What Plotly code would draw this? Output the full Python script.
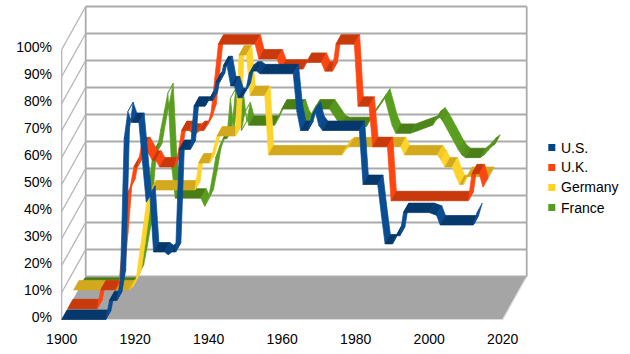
import math
import plotly.graph_objects as go

# ---------------- data ----------------
years = list(range(1900, 2014))

us = [0, 0, 0, 0, 0, 0, 0, 0, 0, 0,
      0, 0, 0, 7, 7, 7, 15, 67, 77, 73,
      73, 73, 58, 43.5, 46, 25, 25, 25, 25, 24,
      25, 25, 63, 63, 63, 63, 79, 79, 79, 79,
      81.1, 81, 88, 88, 94, 94, 86.5, 86.5, 82.1, 82.1,
      84.4, 91, 92, 92, 91, 91, 91, 91, 91, 91,
      91, 91, 91, 91, 77, 70, 70, 70, 75.3, 77,
      71.8, 70, 70, 70, 70, 70, 70, 70, 70, 70,
      70, 70, 50, 50, 50, 50, 50, 38.5, 28, 28,
      28, 31, 31, 39.6, 39.6, 39.6, 39.6, 39.6, 39.6, 39.6,
      39.6, 39.1, 38.6, 35, 35, 35, 35, 35, 35, 35,
      35, 35, 35, 39.6]

uk = [0, 0, 0, 0, 0, 0, 0, 0, 0, 7,
      7, 7, 7, 7, 10, 25, 42, 45, 52.5, 52.5,
      60, 60, 57.5, 55, 55, 52.5, 52.5, 52.5, 52.5, 52.5,
      57.5, 66, 66, 66, 65, 65, 66, 66, 68, 72.5,
      85, 98, 98, 98, 98, 98, 98, 98, 98, 98,
      98, 98, 92.5, 92.5, 92.5, 92.5, 92.5, 92.5, 88.75, 88.75,
      88.75, 88.75, 88.75, 88.75, 88.75, 91.25, 91.25, 91.25, 91.25, 91.25,
      88, 88, 88, 98, 98, 98, 98, 98, 98, 75,
      75, 75, 75, 60, 60, 60, 60, 60, 40, 40,
      40, 40, 40, 40, 40, 40, 40, 40, 40, 40,
      40, 40, 40, 40, 40, 40, 40, 40, 40, 40,
      50, 50, 50, 45]

germany = [3, 3, 3, 3, 3, 3, 3, 3, 3, 3,
           3, 3, 3, 3, 3, 3, 4, 7, 17, 27,
           37, 40, 40, 40, 40, 40, 40, 40, 40, 40,
           40, 40, 40, 40, 50, 50, 50, 50, 55, 60,
           60, 60, 60, 60, 60, 90, 90, 90, 75, 75,
           75, 75, 75, 53, 53, 53, 53, 53, 53, 53,
           53, 53, 53, 53, 53, 53, 53, 53, 53, 53,
           53, 53, 53, 53, 55, 56, 56, 56, 56, 56,
           56, 56, 56, 56, 56, 56, 56, 56, 56, 56,
           53, 53, 53, 53, 53, 53, 53, 53, 53, 53,
           51, 48.5, 48.5, 48.5, 45, 42, 42, 45, 45, 45,
           45, 45, 45, 45]

france = [0, 0, 0, 0, 0, 0, 0, 0, 0, 0,
          0, 0, 0, 0, 0, 2, 5, 12, 20, 40,
          50, 50, 58, 65, 72, 45, 33, 33, 33, 33,
          33, 33, 33, 33, 30, 33, 40, 48, 52, 55,
          55, 70, 58, 70, 58, 65, 60, 60, 60, 60,
          60, 60, 60, 60, 63, 66, 66, 66, 66, 66,
          66, 62, 60, 64, 66, 66, 66, 66, 66, 64,
          62, 60, 59.5, 59.5, 59.5, 59.5, 59.5, 59.5, 59.5, 62,
          64, 66, 68, 70, 65, 60, 57, 57, 57, 57,
          57, 57.5, 58, 58.5, 59, 59.5, 60, 62, 63, 61,
          58.5, 56, 53.5, 51, 49, 48, 48, 48, 48, 48,
          49, 50.5, 52, 53]

series_names = ["U.S.", "U.K.", "Germany", "France"]
series_values = [us, uk, germany, france]
legend_colors = ["#004586", "#ff420e", "#ffd320", "#579d1c"]
dark_colors = ["#06386b", "#c8390c", "#d2a91e", "#4a7f17"]
bright_colors = ["#0a4d93", "#ff4611", "#ffd42a", "#5a9e1f"]

x_tick_vals = [1900, 1920, 1940, 1960, 1980, 2000, 2020]
x_tick_text = ["1900", "1920", "1940", "1960", "1980", "2000", "2020"]
y_tick_vals = [0, 10, 20, 30, 40, 50, 60, 70, 80, 90, 100]
y_tick_text = ["0%", "10%", "20%", "30%", "40%", "50%", "60%", "70%", "80%", "90%", "100%"]

# ---------------- geometry of the pseudo-3D view ----------------
W, H = 630, 354
ML, MR, MT, MB = 58, 90, 4, 32
PX_YEAR = 3.675          # pixels per year
PX_PCT = 2.7             # pixels per percentage point
FRONT_X0 = 61.7          # pixel of 1900 at the front
FRONT_Y0 = 319.5         # pixel of 0% at the front
DEPTH_X = 24 / PX_YEAR   # full depth offset, in years
DEPTH_Y = 43 / PX_PCT    # full depth offset, in percent
SLOT = 0.25
THICK = 0.22
X_FIRST, X_LAST = 1900, 2020

plot_w = W - ML - MR
plot_h = H - MT - MB
xmin = X_FIRST - (FRONT_X0 - ML) / PX_YEAR
xmax = xmin + plot_w / PX_YEAR
ymin = -((H - MB) - FRONT_Y0) / PX_PCT
ymax = ymin + plot_h / PX_PCT

FONT = "Liberation Sans, Arial, sans-serif"


def proj(x, v, d):
    return x + DEPTH_X * d, v + DEPTH_Y * d


def mix(c1, c2, t):
    a = [int(c1[i:i + 2], 16) for i in (1, 3, 5)]
    b = [int(c2[i:i + 2], 16) for i in (1, 3, 5)]
    return "rgb(%d,%d,%d)" % tuple(round(a[i] + (b[i] - a[i]) * t) for i in range(3))


fig = go.Figure()

# floor
fx, fy = [], []
for (x, v, d) in [(X_FIRST, 0, 0), (X_LAST, 0, 0), (X_LAST, 0, 1), (X_FIRST, 0, 1), (X_FIRST, 0, 0)]:
    px, py = proj(x, v, d)
    fx.append(px)
    fy.append(py)
fig.add_trace(go.Scatter(x=fx, y=fy, mode="lines", fill="toself", fillcolor="#a5a5a5",
                         line=dict(width=0), hoverinfo="skip", showlegend=False))
# light front / right floor edge
ex, ey = [], []
for (x, v, d) in [(X_FIRST, 0, 0), (X_LAST, 0, 0), (X_LAST, 0, 1)]:
    px, py = proj(x, v, d)
    ex.append(px)
    ey.append(py)
fig.add_trace(go.Scatter(x=ex, y=ey, mode="lines", line=dict(color="#dcdcdc", width=1.2),
                         hoverinfo="skip", showlegend=False))

# back wall grid lines and borders
gx, gy = [], []
for v in y_tick_vals:
    p0 = proj(X_FIRST, v, 1)
    p1 = proj(X_LAST, v, 1)
    gx += [p0[0], p1[0], None]
    gy += [p0[1], p1[1], None]
for x in (X_FIRST, X_LAST):
    p0 = proj(x, 0, 1)
    p1 = proj(x, 100, 1)
    gx += [p0[0], p1[0], None]
    gy += [p0[1], p1[1], None]
fig.add_trace(go.Scatter(x=gx, y=gy, mode="lines", line=dict(color="#ababab", width=1.8),
                         hoverinfo="skip", showlegend=False))

# left wall: front edge and diagonals
lx, ly = [X_FIRST, X_FIRST, None], [0, 100, None]
for v in y_tick_vals[1:]:
    p0 = proj(X_FIRST, v, 0)
    p1 = proj(X_FIRST, v, 1)
    lx += [p0[0], p1[0], None]
    ly += [p0[1], p1[1], None]
fig.add_trace(go.Scatter(x=lx, y=ly, mode="lines", line=dict(color="#b4b4b4", width=1.3),
                         hoverinfo="skip", showlegend=False))

# ribbons, back series first
for k in [3, 2, 1, 0]:
    vals = series_values[k]
    d0 = k * SLOT
    d1 = d0 + THICK
    runs = []
    for i in range(len(vals) - 1):
        dy = (vals[i + 1] - vals[i]) * PX_PCT
        t = abs(dy) / math.hypot(PX_YEAR, dy)
        lvl = round(t * 4) / 4
        if runs and runs[-1][0] == lvl:
            runs[-1][1].append(i)
        else:
            runs.append([lvl, [i]])
    for lvl, idxs in runs:
        col = mix(dark_colors[k], bright_colors[k], lvl)
        xs, ys = [], []
        for i in idxs:
            x0, x1 = years[i], years[i + 1]
            v0, v1 = vals[i], vals[i + 1]
            for (x, v, d) in [(x0, v0, d0), (x1, v1, d0), (x1, v1, d1), (x0, v0, d1), (x0, v0, d0)]:
                px, py = proj(x, v, d)
                xs.append(px)
                ys.append(py)
            xs.append(None)
            ys.append(None)
        fig.add_trace(go.Scatter(x=xs, y=ys, mode="lines", fill="toself", fillcolor=col,
                                 line=dict(color=col, width=0.7), name=series_names[k],
                                 hoverinfo="skip", showlegend=False))


# legend (drawn manually to match the reference spacing)
def paper_x(px):
    return (px - ML) / plot_w


def paper_y(py):
    return ((H - MB) - py) / plot_h


legend_y = [147.5, 167.5, 187.5, 207.5]
shapes = []
annotations = []
for name, col, cy in zip(series_names, legend_colors, legend_y):
    shapes.append(dict(type="rect", xref="paper", yref="paper",
                       x0=paper_x(548.3), x1=paper_x(555.3),
                       y0=paper_y(cy + 3.5), y1=paper_y(cy - 3.5),
                       fillcolor=col, line=dict(width=0)))
    annotations.append(dict(xref="paper", yref="paper", x=paper_x(558.5), y=paper_y(cy),
                            xanchor="left", yanchor="middle", text=name, showarrow=False,
                            font=dict(family=FONT, size=14, color="#000000")))

fig.update_layout(
    width=W, height=H, autosize=False,
    margin=dict(l=ML, r=MR, t=MT, b=MB, pad=0),
    paper_bgcolor="#ffffff", plot_bgcolor="#ffffff",
    showlegend=False,
    shapes=shapes, annotations=annotations,
    xaxis=dict(range=[xmin, xmax], showgrid=False, zeroline=False, showline=False,
               tickmode="array", tickvals=x_tick_vals, ticktext=x_tick_text, ticks="",
               ticklabelstandoff=7,
               tickfont=dict(family=FONT, size=14, color="#000000"), fixedrange=True),
    yaxis=dict(range=[ymin, ymax], showgrid=False, zeroline=False, showline=False,
               tickmode="array", tickvals=y_tick_vals, ticktext=y_tick_text, ticks="",
               ticklabelstandoff=5, ticklabelshift=-2,
               tickfont=dict(family=FONT, size=14, color="#000000"), fixedrange=True),
)

fig.write_html("out.html")
